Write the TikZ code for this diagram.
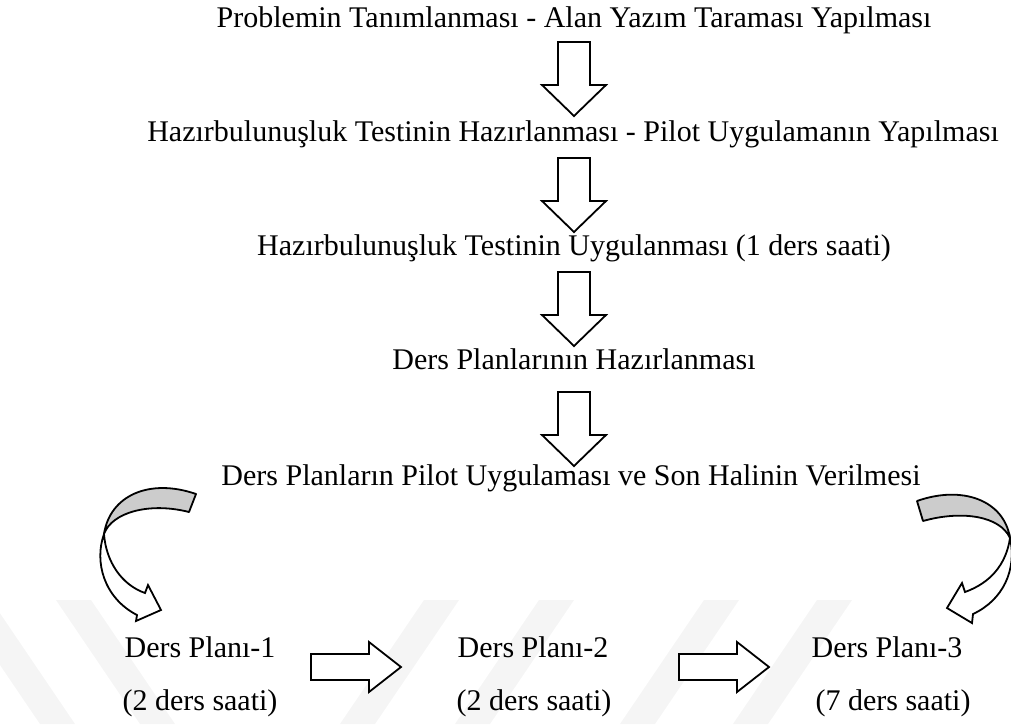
\documentclass[tikz,border=0pt]{standalone}
\usepackage{fontspec}
\setmainfont{Liberation Serif}
\definecolor{ribbongrey}{RGB}{204,204,204}
\definecolor{markgrey}{RGB}{245,245,245}
\begin{document}
\begin{tikzpicture}[x=1pt,y=-1pt,
  lbl/.style={font=\fontsize{30}{36}\selectfont, inner sep=0pt, anchor=base},
  blockarrow/.style={draw=black, line width=1.8pt, fill=white, line join=miter},
  ribbonback/.style={draw=black, line width=1.8pt, fill=ribbongrey, line join=round},
  ribbonfront/.style={draw=black, line width=1.8pt, fill=white, line join=miter},
  downblock/.pic={\draw[blockarrow] (-16,0) -- (16,0) -- (16,43) -- (32,43) -- (0,74) -- (-32,43) -- (-16,43) -- cycle;},
  rightblock/.pic={\draw[blockarrow] (0,-13) -- (58,-13) -- (58,-25) -- (90,0) -- (58,25) -- (58,13) -- (0,13) -- cycle;}
]
\useasboundingbox (0,0) rectangle (1011,724);

% faint background stripes at the foot of the page
\begin{scope}[fill=markgrey]
  \fill (40,724) -- (75,724) -- (-9,600) -- (-44,600) -- cycle;
  \fill (140,724) -- (175,724) -- (91,600) -- (56,600) -- cycle;
  \fill (340,724) -- (375,724) -- (459,600) -- (424,600) -- cycle;
  \fill (455,724) -- (490,724) -- (574,600) -- (539,600) -- cycle;
  \fill (620,724) -- (655,724) -- (739,600) -- (704,600) -- cycle;
  \fill (733,724) -- (768,724) -- (852,600) -- (817,600) -- cycle;
\end{scope}

% main sequence of steps
\node[lbl] (t1) at (574,27)  {Problemin Tanımlanması - Alan Yazım Taraması Yapılması};
\node[lbl] (t2) at (573,141) {Hazırbulunuşluk Testinin Hazırlanması - Pilot Uygulamanın Yapılması};
\node[lbl] (t3) at (574,255) {Hazırbulunuşluk Testinin Uygulanması (1 ders saati)};
\node[lbl] (t4) at (574,369) {Ders Planlarının Hazırlanması};
\node[lbl] (t5) at (571,485) {Ders Planların Pilot Uygulaması ve Son Halinin Verilmesi};

\pic (d1) at (574,42)  {downblock};
\pic (d2) at (574,158) {downblock};
\pic (d3) at (574,272) {downblock};
\pic (d4) at (574,392) {downblock};

% lesson plans
\node[lbl] (p1) at (200,657) {Ders Planı-1};
\node[lbl] (s1) at (200,710) {(2 ders saati)};
\node[lbl] (p2) at (533,657) {Ders Planı-2};
\node[lbl] (s2) at (534,710) {(2 ders saati)};
\node[lbl] (p3) at (887,657) {Ders Planı-3};
\node[lbl] (s3) at (893,710) {(7 ders saati)};

\pic (h1) at (311,667) {rightblock};
\pic (h2) at (679,667) {rightblock};

% curved ribbon arrow on the left
\draw[ribbonback] (196,494) .. controls (150,478) and (110,495) .. (104,534)
  .. controls (112,512) and (150,502) .. (189,512) -- cycle;
\draw[ribbonfront] (104,534) .. controls (94,562) and (104,598) .. (137,615)
  -- (136,621) -- (161,610) -- (148,585) -- (145,593)
  .. controls (122,585) and (106,562) .. (104,534) -- cycle;

% curved ribbon arrow on the right
\draw[ribbonback] (917,501) .. controls (962,485) and (1004,500) .. (1010,538)
  .. controls (1000,516) and (962,510) .. (923,521) -- cycle;
\draw[ribbonfront] (1010,538) .. controls (1017,570) and (1003,600) .. (973,614)
  -- (972,623) -- (947,608) -- (962,583) -- (965,592)
  .. controls (990,583) and (1006,565) .. (1010,538) -- cycle;
\end{tikzpicture}
\end{document}
